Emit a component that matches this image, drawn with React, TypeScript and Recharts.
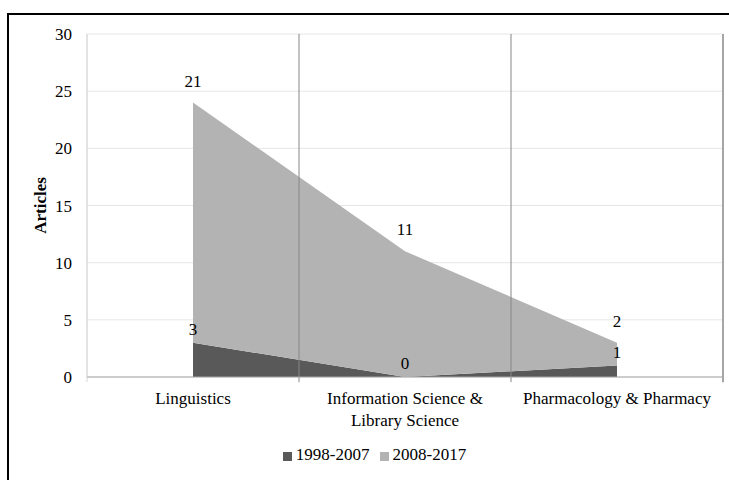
import React from 'react';
import {
  AreaChart, Area, XAxis, YAxis, CartesianGrid, Legend, LabelList, ReferenceLine, Text
} from 'recharts';

const categories = ['Linguistics', 'Information Science & Library Science', 'Pharmacology & Pharmacy'];
const decade1 = [3, 0, 1];
const decade2 = [21, 11, 2];
const yTicks = [0, 5, 10, 15, 20, 25, 30];

const SERIF = 'Liberation Serif';

// centre each category in its own slot, boundaries sit on whole numbers
const data = categories.map((name, i) => ({ name, pos: i + 0.5, d1: decade1[i], d2: decade2[i] }));
const centres = data.map(d => d.pos);
const edges = [0, ...categories.map((_, i) => i + 1)];

const CategoryTick = (props: any) => {
  const { x, y, payload } = props;
  return (
    <Text x={x} y={y} width={185} textAnchor="middle" verticalAnchor="start" lineHeight={22}
      fontSize={17} fill="#000" style={{ fontFamily: SERIF }}>
      {categories[Math.floor(payload.value)]}
    </Text>
  );
};

const AxisTitle = (props: any) => {
  const { viewBox } = props;
  const cx = viewBox.x + 46;
  const cy = viewBox.y + viewBox.height / 2;
  return (
    <text x={cx} y={cy} transform={`rotate(-90, ${cx}, ${cy})`} textAnchor="middle"
      fontSize={17} fontWeight="bold" style={{ fontFamily: SERIF }} fill="#000">Articles</text>
  );
};

const labelStyle = { fill: '#000', fontSize: 17, style: { fontFamily: SERIF } };

export default function App() {
  return (
    <div style={{ position: 'fixed', left: 0, top: 0, width: 729, height: 480, overflow: 'hidden', background: '#fff', fontFamily: SERIF }}>
      <div style={{ position: 'absolute', left: 7, top: 13, width: 800, height: 600, border: '2px solid #000' }} />
      <div style={{ position: 'absolute', left: 0, top: 0 }}>
        <AreaChart width={729} height={480} data={data}
          margin={{ top: 34, right: 6, bottom: 43, left: 0 }} style={{ fontFamily: SERIF }}>
          <CartesianGrid vertical={false} stroke="#e6e6e6" />
          <XAxis type="number" dataKey="pos" domain={[0, 3]} ticks={centres} interval={0}
            tick={<CategoryTick />} tickLine={false} tickSize={6} tickMargin={9} height={60}
            axisLine={{ stroke: '#a6a6a6' }} />
          <YAxis type="number" domain={[0, 30]} ticks={yTicks} interval={0} width={87}
            tickLine={false} tickSize={6} tickMargin={9} axisLine={{ stroke: '#d9d9d9' }}
            tick={{ fill: '#000', fontSize: 17, style: { fontFamily: SERIF } }}
            label={<AxisTitle />} />
          <Area type="linear" dataKey="d1" name="1998-2007" stackId="a" fill="#595959" fillOpacity={1}
            stroke="none" isAnimationActive={false} dot={false} activeDot={false} />
          <Area type="linear" dataKey="d2" name="2008-2017" stackId="a" fill="#b3b3b3" fillOpacity={1}
            stroke="none" isAnimationActive={false} dot={false} activeDot={false} />
          {/* label layers on top of both fills */}
          <Area type="linear" dataKey="d1" stackId="lab" fill="none" stroke="none" legendType="none"
            isAnimationActive={false} dot={false} activeDot={false}>
            <LabelList dataKey="d1" position="top" offset={8} {...labelStyle} />
          </Area>
          <Area type="linear" dataKey="d2" stackId="lab" fill="none" stroke="none" legendType="none"
            isAnimationActive={false} dot={false} activeDot={false}>
            <LabelList dataKey="d2" position="top" offset={16} {...labelStyle} />
          </Area>
          {edges.map(e => (
            <ReferenceLine key={e} ifOverflow="visible"
              segment={[{ x: e, y: -0.45 }, { x: e, y: 30 }]}
              stroke={e === 0 ? '#d9d9d9' : e === 3 ? '#a6a6a6' : '#868686'}
              strokeWidth={e === 3 ? 2 : 1} />
          ))}
          <Legend verticalAlign="middle" align="center" layout="horizontal" iconType="square" iconSize={9}
            wrapperStyle={{ top: 445, left: 18, fontSize: 17, fontFamily: SERIF }}
            formatter={(v: string) => <span style={{ color: '#000', fontFamily: SERIF }}>{v}</span>} />
        </AreaChart>
      </div>
    </div>
  );
}
